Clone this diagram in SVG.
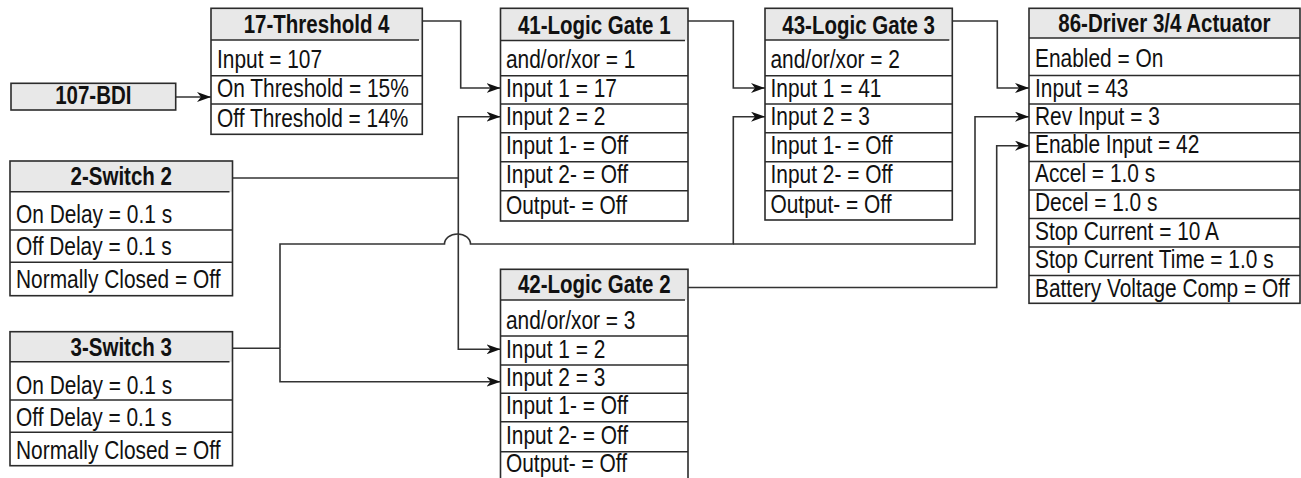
<svg xmlns="http://www.w3.org/2000/svg" width="1301" height="478" viewBox="0 0 1301 478">
<style>
.bx{fill:none;stroke:#2b2b2b;stroke-width:1.6}
.hd{fill:#e8e8e8;stroke:none}
.bg{fill:#fff;stroke:none}
.sep{stroke:#2b2b2b;stroke-width:1.6}
.t{font-family:"Liberation Sans",Arial,sans-serif;font-size:25.5px;fill:#111}
.h{font-family:"Liberation Sans",Arial,sans-serif;font-size:25px;font-weight:bold;fill:#111;text-anchor:middle}
.c{fill:none;stroke:#333;stroke-width:1.6}
.a{marker-end:url(#arr)}
</style>
<defs>
<marker id="arr" markerUnits="userSpaceOnUse" markerWidth="15" markerHeight="10" refX="14" refY="5" orient="auto">
<path d="M0,0 L14,5 L0,10 L4,5 z" fill="#111"/>
</marker>
</defs>
<rect width="1301" height="478" fill="#fff"/>

<g id="connectors">
<path class="c a" d="M176,97 H211"/>
<path class="c a" d="M422,21 H460.7 V88 H500.5"/>
<path class="c a" d="M688,21 H733.3 V88 H765"/>
<path class="c a" d="M952.3,21 H997.3 V88 H1029"/>
<path class="c" d="M232.5,178 H458.3"/>
<path class="c a" d="M458.3,178 V116.7 H500.5"/>
<path class="c a" d="M458.3,178 V349.3 H500.5"/>
<path class="c" d="M232.5,348.3 H280"/>
<path class="c a" d="M280,348.3 V244 H444.5 A13,10 0 0 1 470.5,244 H733.3 V116.7 H765"/>
<path class="c a" d="M733.3,244 H975 V116.7 H1029"/>
<path class="c a" d="M280,348.3 V381.7 H500.5"/>
<path class="c a" d="M688,287.5 H996.7 V145.7 H1029"/>
</g>

<g id="n107">
<rect class="hd" x="11" y="83.3" width="164.7" height="26.7"/>
<rect class="bx" x="11" y="83.3" width="164.7" height="26.7"/>
<g transform="translate(11,0) scale(0.82,1)">
<text class="h" x="100.4" y="104">107-BDI</text>
</g>
</g>

<g id="n17">
<rect class="bg" x="211" y="8.3" width="211.3" height="126"/>
<rect class="hd" x="211" y="8.3" width="211.3" height="31.7"/>
<line class="sep" x1="211" y1="40" x2="419" y2="40"/>
<line class="sep" x1="211" y1="75.7" x2="422.3" y2="75.7"/>
<line class="sep" x1="211" y1="104" x2="422.3" y2="104"/>
<rect class="bx" x="211" y="8.3" width="211.3" height="126"/>
<g transform="translate(211,0) scale(0.82,1)">
<text class="h" x="128.8" y="33.5">17-Threshold 4</text>
<text class="t" x="7.3" y="68.4">Input = 107</text>
<text class="t" x="7.3" y="96.7">On Threshold = 15%</text>
<text class="t" x="7.3" y="127">Off Threshold = 14%</text>
</g>
</g>

<g id="n2">
<rect class="bg" x="10" y="161" width="222.5" height="134.7"/>
<rect class="hd" x="10" y="161" width="222.5" height="30.7"/>
<line class="sep" x1="10" y1="191.7" x2="229.5" y2="191.7"/>
<line class="sep" x1="10" y1="230" x2="232.5" y2="230"/>
<line class="sep" x1="10" y1="262.3" x2="232.5" y2="262.3"/>
<rect class="bx" x="10" y="161" width="222.5" height="134.7"/>
<g transform="translate(10,0) scale(0.82,1)">
<text class="h" x="135.7" y="185.5">2-Switch 2</text>
<text class="t" x="7.3" y="223.5">On Delay = 0.1 s</text>
<text class="t" x="7.3" y="255.5">Off Delay = 0.1 s</text>
<text class="t" x="7.3" y="288.5">Normally Closed = Off</text>
</g>
</g>

<g id="n3">
<rect class="bg" x="10" y="331.7" width="222.5" height="134"/>
<rect class="hd" x="10" y="331.7" width="222.5" height="30"/>
<line class="sep" x1="10" y1="361.7" x2="229.5" y2="361.7"/>
<line class="sep" x1="10" y1="400" x2="232.5" y2="400"/>
<line class="sep" x1="10" y1="432.3" x2="232.5" y2="432.3"/>
<rect class="bx" x="10" y="331.7" width="222.5" height="134"/>
<g transform="translate(10,0) scale(0.82,1)">
<text class="h" x="135.7" y="356.2">3-Switch 3</text>
<text class="t" x="7.3" y="394.2">On Delay = 0.1 s</text>
<text class="t" x="7.3" y="426.2">Off Delay = 0.1 s</text>
<text class="t" x="7.3" y="459.2">Normally Closed = Off</text>
</g>
</g>

<g id="n41">
<rect class="bg" x="500.5" y="8.3" width="187.5" height="212.7"/>
<rect class="hd" x="500.5" y="8.3" width="187.5" height="32.2"/>
<line class="sep" x1="500.5" y1="40.5" x2="685" y2="40.5"/>
<line class="sep" x1="500.5" y1="75.7" x2="688" y2="75.7"/>
<line class="sep" x1="500.5" y1="104" x2="688" y2="104"/>
<line class="sep" x1="500.5" y1="132.7" x2="688" y2="132.7"/>
<line class="sep" x1="500.5" y1="161.7" x2="688" y2="161.7"/>
<line class="sep" x1="500.5" y1="190.7" x2="688" y2="190.7"/>
<rect class="bx" x="500.5" y="8.3" width="187.5" height="212.7"/>
<g transform="translate(500.5,0) scale(0.82,1)">
<text class="h" x="114.3" y="34">41-Logic Gate 1</text>
<text class="t" x="6.7" y="68.4">and/or/xor = 1</text>
<text class="t" x="6.7" y="96.7">Input 1 = 17</text>
<text class="t" x="6.7" y="125.4">Input 2 = 2</text>
<text class="t" x="6.7" y="154.4">Input 1- = Off</text>
<text class="t" x="6.7" y="183.4">Input 2- = Off</text>
<text class="t" x="6.7" y="213.7">Output- = Off</text>
</g>
</g>

<g id="n43">
<rect class="bg" x="765" y="8.3" width="187.3" height="211.7"/>
<rect class="hd" x="765" y="8.3" width="187.3" height="31.7"/>
<line class="sep" x1="765" y1="40" x2="949.3" y2="40"/>
<line class="sep" x1="765" y1="75.7" x2="952.3" y2="75.7"/>
<line class="sep" x1="765" y1="104" x2="952.3" y2="104"/>
<line class="sep" x1="765" y1="132.7" x2="952.3" y2="132.7"/>
<line class="sep" x1="765" y1="161.7" x2="952.3" y2="161.7"/>
<line class="sep" x1="765" y1="190.7" x2="952.3" y2="190.7"/>
<rect class="bx" x="765" y="8.3" width="187.3" height="211.7"/>
<g transform="translate(765,0) scale(0.82,1)">
<text class="h" x="114.2" y="34">43-Logic Gate 3</text>
<text class="t" x="6.7" y="68.4">and/or/xor = 2</text>
<text class="t" x="6.7" y="96.7">Input 1 = 41</text>
<text class="t" x="6.7" y="125.4">Input 2 = 3</text>
<text class="t" x="6.7" y="154.4">Input 1- = Off</text>
<text class="t" x="6.7" y="183.4">Input 2- = Off</text>
<text class="t" x="6.7" y="213.2">Output- = Off</text>
</g>
</g>

<g id="n42">
<rect class="bg" x="500.5" y="269.3" width="187.5" height="212.7"/>
<rect class="hd" x="500.5" y="269.3" width="187.5" height="30.7"/>
<line class="sep" x1="500.5" y1="300" x2="685" y2="300"/>
<line class="sep" x1="500.5" y1="336" x2="688" y2="336"/>
<line class="sep" x1="500.5" y1="365" x2="688" y2="365"/>
<line class="sep" x1="500.5" y1="393.3" x2="688" y2="393.3"/>
<line class="sep" x1="500.5" y1="421.7" x2="688" y2="421.7"/>
<line class="sep" x1="500.5" y1="451.7" x2="688" y2="451.7"/>
<rect class="bx" x="500.5" y="269.3" width="187.5" height="212.7"/>
<g transform="translate(500.5,0) scale(0.82,1)">
<text class="h" x="114.3" y="293.5">42-Logic Gate 2</text>
<text class="t" x="6.7" y="328.7">and/or/xor = 3</text>
<text class="t" x="6.7" y="357.7">Input 1 = 2</text>
<text class="t" x="6.7" y="386">Input 2 = 3</text>
<text class="t" x="6.7" y="414.4">Input 1- = Off</text>
<text class="t" x="6.7" y="444.4">Input 2- = Off</text>
<text class="t" x="6.7" y="472.5">Output- = Off</text>
</g>
</g>

<g id="n86">
<rect class="bg" x="1029" y="8.3" width="271" height="295"/>
<rect class="hd" x="1029" y="8.3" width="271" height="29.7"/>
<line class="sep" x1="1029" y1="38" x2="1300" y2="38"/>
<line class="sep" x1="1029" y1="75.5" x2="1300" y2="75.5"/>
<line class="sep" x1="1029" y1="104" x2="1300" y2="104"/>
<line class="sep" x1="1029" y1="132.7" x2="1300" y2="132.7"/>
<line class="sep" x1="1029" y1="161.5" x2="1300" y2="161.5"/>
<line class="sep" x1="1029" y1="190" x2="1300" y2="190"/>
<line class="sep" x1="1029" y1="218.5" x2="1300" y2="218.5"/>
<line class="sep" x1="1029" y1="247" x2="1300" y2="247"/>
<line class="sep" x1="1029" y1="275.5" x2="1300" y2="275.5"/>
<rect class="bx" x="1029" y="8.3" width="271" height="295"/>
<g transform="translate(1029,0) scale(0.82,1)">
<text class="h" x="165.2" y="32.5">86-Driver 3/4 Actuator</text>
<text class="t" x="7.3" y="66.7">Enabled = On</text>
<text class="t" x="7.3" y="96.7">Input = 43</text>
<text class="t" x="7.3" y="125">Rev Input = 3</text>
<text class="t" x="7.3" y="153.3">Enable Input = 42</text>
<text class="t" x="7.3" y="181.7">Accel = 1.0 s</text>
<text class="t" x="7.3" y="210.7">Decel = 1.0 s</text>
<text class="t" x="7.3" y="240">Stop Current = 10 A</text>
<text class="t" x="7.3" y="268.3">Stop Current Time = 1.0 s</text>
<text class="t" x="7.3" y="296.7">Battery Voltage Comp = Off</text>
</g>
</g>
</svg>
